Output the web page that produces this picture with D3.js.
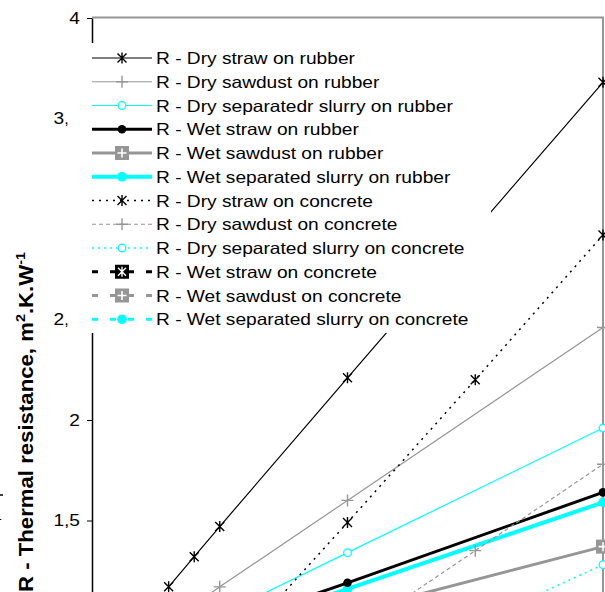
<!DOCTYPE html>
<html>
<head>
<meta charset="utf-8">
<script src="https://cdn.jsdelivr.net/npm/d3@7/dist/d3.min.js"></script>
<style>
  body { margin: 0; background: #fff; }
  svg { display: block; font-family: "Liberation Sans", Arial, sans-serif; }
</style>
</head>
<body>
<svg id="chart" width="605" height="592"></svg>
<script>
// bedding depth (x) for each group of series
const rubberX = [3, 4, 5, 10, 20];
const concreteX = [5, 10, 15, 20];

// R values
const dryStrawRubber = [1.17, 1.32, 1.47, 2.21, 3.68];
const drySawdustRubber = [0.99, 1.08, 1.17, 1.60, 2.46];
const drySlurryRubber = [0.91, 0.97, 1.03, 1.34, 1.96];
const wetStrawRubber = [0.86, 0.91, 0.97, 1.19, 1.64];
const wetSawdustRubber = [0.80, 0.84, 0.88, 1.04, 1.37];
const wetSlurryRubber = [0.84, 0.89, 0.94, 1.16, 1.59];
const dryStrawConcrete = [0.79, 1.49, 2.20, 2.92];
const drySawdustConcrete = [0.50, 0.92, 1.35, 1.78];
const drySlurryConcrete = [0.40, 0.69, 0.99, 1.28];
const wetStrawConcrete = [0.45, 0.66, 0.87, 1.08];
const wetSawdustConcrete = [0.40, 0.58, 0.78, 0.98];
const wetSlurryConcrete = [0.42, 0.62, 0.82, 1.02];

const yTicks = [1.5, 2, 2.5, 3, 3.5, 4];
const legendNames = [
  "R - Dry straw on rubber",
  "R - Dry sawdust on rubber",
  "R - Dry separatedr slurry on rubber",
  "R - Wet straw on rubber",
  "R - Wet sawdust on rubber",
  "R - Wet separated slurry on rubber",
  "R - Dry straw on concrete",
  "R - Dry sawdust on concrete",
  "R - Dry separated slurry on concrete",
  "R - Wet straw on concrete",
  "R - Wet sawdust on concrete",
  "R - Wet separated slurry on concrete"
];

const GRAY = "#969696", CYAN = "#00ffff";

// styling per series, same order as the legend
const series = [
  { x: rubberX, y: dryStrawRubber, color: "#000", w: 1.2, dash: null, marker: "star" },
  { x: rubberX, y: drySawdustRubber, color: GRAY, w: 1.2, dash: null, marker: "plus" },
  { x: rubberX, y: drySlurryRubber, color: CYAN, w: 1.2, dash: null, marker: "circleOpen" },
  { x: rubberX, y: wetStrawRubber, color: "#000", w: 3, dash: null, marker: "dot" },
  { x: rubberX, y: wetSawdustRubber, color: GRAY, w: 3, dash: null, marker: "squarePlus" },
  { x: rubberX, y: wetSlurryRubber, color: CYAN, w: 4, dash: null, marker: "dotBig" },
  { x: concreteX, y: dryStrawConcrete, color: "#000", w: 1.5, dash: "2,5", marker: "star" },
  { x: concreteX, y: drySawdustConcrete, color: GRAY, w: 1.2, dash: "4,3", marker: "plus" },
  { x: concreteX, y: drySlurryConcrete, color: CYAN, w: 1.5, dash: "2,4", marker: "circleOpen" },
  { x: concreteX, y: wetStrawConcrete, color: "#000", w: 3, dash: "6,12", marker: "squareStar" },
  { x: concreteX, y: wetSawdustConcrete, color: GRAY, w: 3, dash: "6,12", marker: "squarePlus" },
  { x: concreteX, y: wetSlurryConcrete, color: CYAN, w: 3, dash: "6,12", marker: "dotBig" }
];
// cyan thick sits under the black thick line in the picture
const drawOrder = [0, 1, 2, 5, 3, 4, 6, 7, 8, 9, 10, 11];

const svg = d3.select("#chart");
const xScale = d3.scaleLinear().domain([0, 20]).range([92, 603]);
const yScale = d3.scaleLinear().domain([1, 4]).range([621, 18]);

// stretch text sideways, the original picture is a bit wide
function stretch(sel, k) {
  sel.each(function () {
    const w = this.getComputedTextLength();
    d3.select(this).attr("textLength", w * k).attr("lengthAdjust", "spacingAndGlyphs");
  });
}

function drawMarker(g, type, color) {
  if (type === "star") {
    g.append("path").attr("d", "M-4.5,-4.5L4.5,4.5M-4.5,4.5L4.5,-4.5M0,-5.5L0,5.5")
      .attr("stroke", color).attr("stroke-width", 1.4).attr("fill", "none");
  } else if (type === "plus") {
    g.append("path").attr("d", "M-6,0H6M0,-6V6")
      .attr("stroke", color).attr("stroke-width", 1.4).attr("fill", "none");
  } else if (type === "circleOpen") {
    g.append("circle").attr("r", 3.8).attr("fill", "#fff").attr("stroke", color).attr("stroke-width", 1.3);
  } else if (type === "dot") {
    g.append("circle").attr("r", 4.3).attr("fill", color);
  } else if (type === "dotBig") {
    g.append("circle").attr("r", 4.8).attr("fill", color);
  } else if (type === "squarePlus") {
    g.append("rect").attr("x", -7).attr("y", -7).attr("width", 14).attr("height", 14).attr("fill", color);
    g.append("path").attr("d", "M-4.5,0H4.5M0,-4.5V4.5").attr("stroke", "#fff").attr("stroke-width", 1.6);
  } else if (type === "squareStar") {
    g.append("rect").attr("x", -7).attr("y", -7).attr("width", 14).attr("height", 14).attr("fill", color);
    g.append("path").attr("d", "M-4,-4L4,4M-4,4L4,-4M0,-5V5").attr("stroke", "#fff").attr("stroke-width", 1.4);
  }
}

// plot area border (top + right, gray)
svg.append("path")
  .attr("d", `M${xScale(0)},${yScale(4) - 0.5}H${xScale(20)}V${yScale(0.5)}`)
  .attr("fill", "none").attr("stroke", GRAY).attr("stroke-width", 2);

// y axis
const yAxis = d3.axisLeft(yScale)
  .tickValues(yTicks)
  .tickSize(5)
  .tickSizeOuter(0)
  .tickPadding(7)
  .tickFormat(v => String(v).replace(".", ","));
const axisG = svg.append("g").attr("transform", `translate(${xScale(0)},0)`).call(yAxis);
axisG.select(".domain").attr("stroke", "#000").attr("stroke-width", 1.5);
axisG.selectAll(".tick line").attr("stroke", "#000");
axisG.selectAll("text").attr("font-size", 16.5).attr("fill", "#000")
  .attr("font-family", "Liberation Sans, Arial, sans-serif");
stretch(axisG.selectAll("text"), 1.16);

// lines and markers
const line = d3.line().x(d => xScale(d[0])).y(d => yScale(d[1]));
const plot = svg.append("g");
drawOrder.forEach(i => {
  const s = series[i];
  const pts = s.x.map((xv, k) => [xv, s.y[k]]);
  plot.append("path")
    .attr("d", line(pts))
    .attr("fill", "none")
    .attr("stroke", s.color)
    .attr("stroke-width", s.w)
    .attr("stroke-dasharray", s.dash);
  pts.forEach(p => {
    const g = plot.append("g").attr("transform", `translate(${xScale(p[0])},${yScale(p[1])})`);
    drawMarker(g, s.marker, s.color);
  });
});

// legend, white box over the plot
const legend = svg.append("g");
legend.append("rect").attr("x", 67.5).attr("y", 43).attr("width", 423.5).attr("height", 290).attr("fill", "#fff");
legendNames.forEach((name, i) => {
  const s = series[i];
  const cy = 58 + i * 23.75;
  legend.append("line")
    .attr("x1", 92).attr("x2", 152).attr("y1", cy).attr("y2", cy)
    .attr("stroke", s.color).attr("stroke-width", s.w)
    .attr("stroke-dasharray", s.dash);
  drawMarker(legend.append("g").attr("transform", `translate(122,${cy})`), s.marker, s.color);
  const t = legend.append("text")
    .attr("x", 156).attr("y", cy + 6)
    .attr("font-size", 16.5).attr("fill", "#000")
    .text(name);
  stretch(t, 1.16);
});

// y axis title
const title = svg.append("text")
  .attr("transform", "translate(33,592) rotate(-90)")
  .attr("font-size", 20).attr("font-weight", "bold").attr("fill", "#000");
title.append("tspan").text("R - Thermal resistance, m");
title.append("tspan").attr("font-size", 13).attr("dy", -8).text("2");
title.append("tspan").attr("dy", 8).text(".K.W");
title.append("tspan").attr("font-size", 13).attr("dy", -8).text("-1");
title.attr("textLength", 340).attr("lengthAdjust", "spacingAndGlyphs");

// cut-off bits of a neighbouring label at the left edge
svg.append("text").attr("x", -6).attr("y", 520).attr("font-size", 14).attr("fill", "#000").text("1");
svg.append("line").attr("x1", 0).attr("x2", 3).attr("y1", 495).attr("y2", 495).attr("stroke", "#000").attr("stroke-width", 1.5);
</script>
</body>
</html>
